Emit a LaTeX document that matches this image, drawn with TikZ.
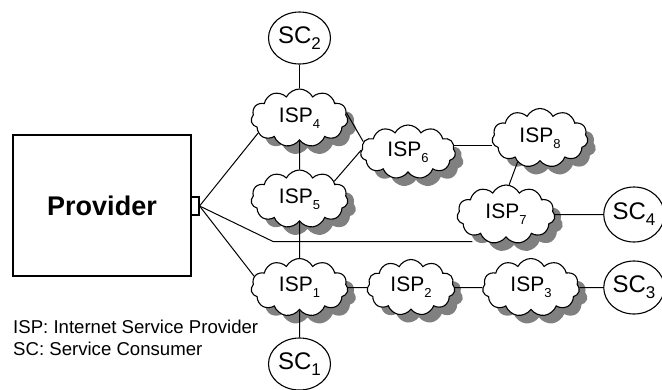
\documentclass[tikz,border=0pt]{standalone}
\usepackage{fontspec}
\setmainfont{Liberation Sans}
\usetikzlibrary{shapes.symbols,shapes.geometric,shadows,calc}
\newcommand{\ispl}[1]{{\fontsize{21}{21}\selectfont ISP\raisebox{-6pt}{\fontsize{13}{13}\selectfont #1}}}
\newcommand{\scl}[1]{{\fontsize{24}{24}\selectfont SC\raisebox{-6pt}{\fontsize{17}{17}\selectfont #1}}}
\begin{document}
\begin{tikzpicture}[x=1pt,y=-1pt,
  ispcloud/.style={cloud, cloud puffs=11, cloud puff arc=125, cloud ignores aspect,
    draw, fill=white, line width=1.1pt, inner sep=0pt,
    minimum width=97pt, minimum height=58pt,
    drop shadow={shadow xshift=8pt, shadow yshift=-8pt, fill=black!50, opacity=1}},
  scnode/.style={ellipse, draw, fill=white, line width=1.1pt, inner sep=0pt,
    minimum width=62pt, minimum height=52pt},
  conn/.style={line width=1pt},
  legend/.style={anchor=base west, inner sep=0pt, font=\fontsize{18.6}{18.6}\selectfont}]
\useasboundingbox (0,0) rectangle (662,389);

% provider
\node[draw, line width=1.1pt, minimum width=178pt, minimum height=141pt, inner sep=0pt,
  font=\bfseries\fontsize{27}{27}\selectfont] (prov) at (102,205.5) {Provider};
\node[draw, fill=white, line width=1.1pt, minimum width=8pt, minimum height=18pt, inner sep=0pt] (port) at (195,206) {};

% clouds
\node[ispcloud] (isp4) at (299.5,118) {\ispl{4}};
\node[ispcloud] (isp5) at (299.5,199) {\ispl{5}};
\node[ispcloud] (isp1) at (299.5,287.5) {\ispl{1}};
\node[ispcloud, minimum width=88pt, minimum height=56pt] (isp2) at (411,287.5) {\ispl{2}};
\node[ispcloud] (isp3) at (531,287.5) {\ispl{3}};
\node[ispcloud, minimum width=95pt, minimum height=54pt] (isp6) at (408,152) {\ispl{6}};
\node[ispcloud, minimum width=96pt, minimum height=59pt] (isp8) at (540,138) {\ispl{8}};
\node[ispcloud, minimum width=98pt, minimum height=59pt] (isp7) at (506,214.5) {\ispl{7}};

% consumers
\node[scnode] (sc2) at (299.5,38) {\scl{2}};
\node[scnode] (sc1) at (299.5,364) {\scl{1}};
\node[scnode, minimum width=56pt, minimum height=55pt] (sc4) at (634,214.5) {\scl{4}};
\node[scnode, minimum width=56pt, minimum height=53pt] (sc3) at (634,287.5) {\scl{3}};

% connectors
\draw[conn] (sc2) -- (isp4);
\draw[conn] (isp4) -- (isp5);
\draw[conn] (isp5) -- (isp1);
\draw[conn] (isp1) -- (sc1);
\draw[conn] (isp1) -- (isp2);
\draw[conn] (isp2) -- (isp3);
\draw[conn] (isp3) -- (sc3);
\draw[conn] (isp7) -- (sc4);
\draw[conn] (isp4.6) -- (isp6.167);
\draw[conn] (isp5.27) -- (isp6.178);
\draw[conn] (isp6.8) -- (isp6.8 -| isp8.west);
\draw[conn] (isp8.227) -- (isp7.84);
\coordinate (bend) at (273,241.5);
\draw[conn] (port.east) -- (isp4.200);
\draw[conn] (port.east) -- (bend) -- (isp7.212 |- bend);
\draw[conn] (port.east) -- (isp1.166);

% legend
\node[legend] (leg1) at (13,333) {ISP: Internet Service Provider};
\node[legend] (leg2) at (13,355) {SC: Service Consumer};
\end{tikzpicture}
\end{document}
